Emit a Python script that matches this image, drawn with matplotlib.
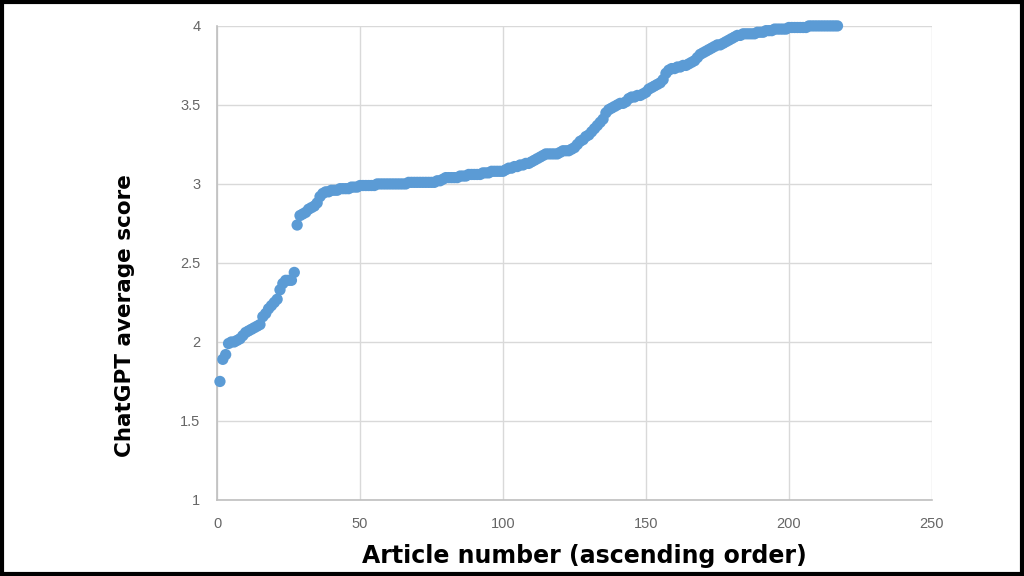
import matplotlib.pyplot as plt
from matplotlib.patches import Rectangle

# ChatGPT average score per article, sorted ascending (article 1..217)
scores = [
    1.75, 1.89, 1.92, 1.99, 2.00, 2.00, 2.01, 2.02, 2.04, 2.06,
    2.07, 2.08, 2.09, 2.10, 2.11, 2.16, 2.18, 2.21, 2.23, 2.25,
    2.27, 2.33, 2.37, 2.39, 2.39, 2.39, 2.44, 2.74, 2.80, 2.81,
    2.82, 2.84, 2.85, 2.86, 2.88, 2.92, 2.94, 2.95, 2.95, 2.96,
    2.96, 2.96, 2.97, 2.97, 2.97, 2.97, 2.98, 2.98, 2.98, 2.99,
    2.99, 2.99, 2.99, 2.99, 2.99, 3.00, 3.00, 3.00, 3.00, 3.00,
    3.00, 3.00, 3.00, 3.00, 3.00, 3.00, 3.01, 3.01, 3.01, 3.01,
    3.01, 3.01, 3.01, 3.01, 3.01, 3.01, 3.02, 3.02, 3.03, 3.04,
    3.04, 3.04, 3.04, 3.04, 3.05, 3.05, 3.05, 3.06, 3.06, 3.06,
    3.06, 3.06, 3.07, 3.07, 3.07, 3.08, 3.08, 3.08, 3.08, 3.08,
    3.09, 3.10, 3.10, 3.11, 3.11, 3.12, 3.12, 3.13, 3.13, 3.14,
    3.15, 3.16, 3.17, 3.18, 3.19, 3.19, 3.19, 3.19, 3.19, 3.20,
    3.21, 3.21, 3.21, 3.22, 3.23, 3.25, 3.27, 3.28, 3.30, 3.31,
    3.33, 3.35, 3.37, 3.39, 3.41, 3.45, 3.47, 3.48, 3.49, 3.50,
    3.51, 3.51, 3.52, 3.54, 3.55, 3.55, 3.56, 3.56, 3.57, 3.58,
    3.60, 3.61, 3.62, 3.63, 3.64, 3.66, 3.70, 3.72, 3.73, 3.73,
    3.74, 3.74, 3.75, 3.75, 3.76, 3.77, 3.78, 3.80, 3.82, 3.83,
    3.84, 3.85, 3.86, 3.87, 3.88, 3.88, 3.89, 3.90, 3.91, 3.92,
    3.93, 3.94, 3.94, 3.95, 3.95, 3.95, 3.95, 3.95, 3.96, 3.96,
    3.96, 3.97, 3.97, 3.97, 3.98, 3.98, 3.98, 3.98, 3.98, 3.99,
    3.99, 3.99, 3.99, 3.99, 3.99, 3.99, 4.00, 4.00, 4.00, 4.00,
    4.00, 4.00, 4.00, 4.00, 4.00, 4.00, 4.00,
]
articles = list(range(1, len(scores) + 1))

x_ticks = [0, 50, 100, 150, 200, 250]
y_ticks = [1, 1.5, 2, 2.5, 3, 3.5, 4]
y_tick_labels = ['1', '1.5', '2', '2.5', '3', '3.5', '4']

x_label = 'Article number (ascending order)'
y_label = 'ChatGPT average score'

fig = plt.figure(figsize=(10.24, 5.76), dpi=100)
fig.patch.set_facecolor('white')
ax = fig.add_axes([0.212, 0.132, 0.698, 0.823])

ax.scatter(articles, scores, s=66, color='#5B9BD5', edgecolors='none',
           zorder=3, clip_on=False)

ax.set_xlim(0, 250)
ax.set_ylim(1, 4)
ax.set_xticks(x_ticks)
ax.set_yticks(y_ticks)
ax.set_yticklabels(y_tick_labels)
ax.grid(True, color='#D9D9D9', linewidth=1)
ax.set_axisbelow(True)

for side in ['top', 'right']:
    ax.spines[side].set_visible(False)
for side in ['left', 'bottom']:
    ax.spines[side].set_color('#BFBFBF')
    ax.spines[side].set_linewidth(1.2)

ax.tick_params(length=0, labelsize=10.5, labelcolor='#666666', pad=12)
for lbl in ax.get_xticklabels() + ax.get_yticklabels():
    lbl.set_family(['Liberation Sans Narrow', 'Liberation Sans', 'DejaVu Sans'])

# axis titles placed on the figure (off-centre like the original)
fig.text(0.571, 0.035, x_label, ha='center', va='center', fontsize=17,
         fontweight='bold', family=['DejaVu Sans'], color='black')
fig.text(0.122, 0.453, y_label, ha='center', va='center', rotation=90,
         fontsize=15.5, fontweight='bold', family=['DejaVu Sans'], color='black')

# black frame round the picture
fig.patches.append(Rectangle((0.0015, 0.003), 0.997, 0.994, transform=fig.transFigure,
                             fill=False, edgecolor='black', linewidth=3))

fig.savefig('out.png', dpi=100)
